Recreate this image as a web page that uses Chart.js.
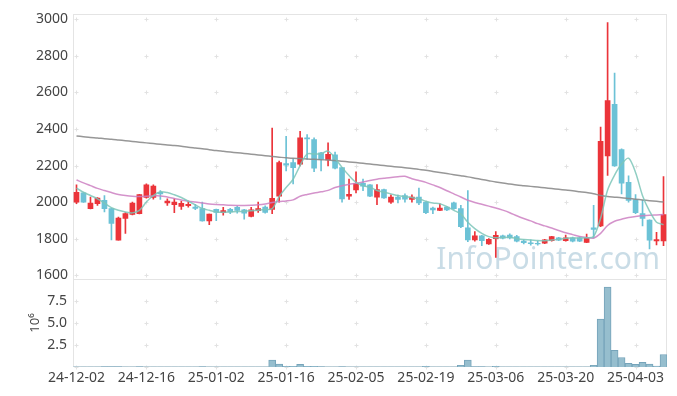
<!DOCTYPE html>
<html>
<head>
<meta charset="utf-8">
<script src="https://cdn.jsdelivr.net/npm/chart.js@4.4.1/dist/chart.umd.min.js"></script>
<style>
  html, body { margin: 0; padding: 0; background: #fff; }
  #wrap { width: 677px; height: 396px; }
</style>
</head>
<body>
<div id="wrap"><canvas id="myChart" width="677" height="396"></canvas></div>
<script>
// trading days
const dates = [
  "24-12-02","24-12-03","24-12-04","24-12-05","24-12-06","24-12-09","24-12-10","24-12-11","24-12-12","24-12-13",
  "24-12-16","24-12-17","24-12-18","24-12-19","24-12-20","24-12-23","24-12-24","24-12-26","24-12-27","24-12-30",
  "25-01-02","25-01-03","25-01-06","25-01-07","25-01-08","25-01-09","25-01-10","25-01-13","25-01-14","25-01-15",
  "25-01-16","25-01-17","25-01-20","25-01-21","25-01-22","25-01-23","25-01-24","25-01-31","25-02-03","25-02-04",
  "25-02-05","25-02-06","25-02-07","25-02-10","25-02-11","25-02-12","25-02-13","25-02-14","25-02-17","25-02-18",
  "25-02-19","25-02-20","25-02-21","25-02-24","25-02-25","25-02-26","25-02-27","25-02-28","25-03-04","25-03-05",
  "25-03-06","25-03-07","25-03-10","25-03-11","25-03-12","25-03-13","25-03-14","25-03-17","25-03-18","25-03-19",
  "25-03-20","25-03-21","25-03-24","25-03-25","25-03-26","25-03-27","25-03-28","25-03-31","25-04-01","25-04-02",
  "25-04-03","25-04-04","25-04-07","25-04-08","25-04-09"
];

const opens = [
  2000,2050,1964,1991,2009,1964,1791,1910,1933,1937,
  2025,2025,2054,1995,1986,1977,1980,1973,1964,1897,
  1960,1942,1960,1971,1957,1921,1953,1973,1960,2032,
  2211,2216,2207,2351,2342,2270,2231,2259,2189,2032,
  2067,2103,2094,2027,2069,2000,2027,2036,2014,2027,
  2000,1967,1955,1973,1996,1964,1859,1793,1816,1771,
  1800,1816,1820,1811,1786,1777,1775,1775,1789,1805,
  1789,1805,1805,1780,1859,1870,2252,2535,2288,2108,
  2014,1937,1901,1788,1788
];
const highs = [
  2094,2052,2027,2025,2036,1966,1918,1942,2000,2043,
  2100,2094,2063,2018,2018,2005,2005,1988,2000,1935,
  1962,1971,1966,1978,1960,1971,2000,1980,2405,2224,
  2360,2238,2387,2369,2351,2272,2324,2274,2189,2126,
  2166,2126,2096,2096,2071,2040,2039,2045,2040,2076,
  2002,1973,1991,1976,2000,1982,2063,1838,1818,1800,
  1838,1820,1827,1818,1793,1793,1786,1796,1813,1807,
  1820,1808,1811,1825,1982,2411,2982,2706,2292,2144,
  2041,2009,1903,1834,2139
];
const lows = [
  1991,1998,1962,1982,1946,1793,1791,1829,1930,1935,
  2022,2016,2014,1982,1942,1960,1972,1958,1895,1877,
  1899,1928,1937,1940,1906,1919,1944,1940,1937,2000,
  2171,2099,2198,2234,2166,2171,2198,2182,2000,2014,
  2050,2063,2030,1986,2020,1993,1995,2000,2000,1986,
  1937,1937,1953,1953,1960,1860,1784,1786,1762,1769,
  1697,1798,1798,1782,1771,1764,1764,1773,1786,1789,
  1786,1782,1784,1778,1802,1865,2146,2195,2045,2000,
  1937,1870,1744,1766,1762
];
const closes = [
  2054,2000,1995,2022,1964,1883,1913,1937,1995,2041,
  2094,2087,2045,2005,2000,1993,1988,1965,1897,1935,
  1944,1953,1946,1955,1940,1957,1964,1944,2020,2216,
  2202,2189,2351,2346,2185,2234,2261,2185,2018,2043,
  2103,2087,2032,2069,2023,2027,2014,2016,2027,1996,
  1942,1957,1967,1957,1964,1865,1793,1816,1789,1796,
  1818,1802,1804,1786,1778,1773,1771,1793,1811,1791,
  1805,1786,1786,1805,1850,2333,2555,2198,2104,2009,
  1942,1910,1791,1795,1932
];

// volume, in millions of shares
const volumes = [
  0.03,0.02,0.03,0.02,0.04,0.05,0.04,0.03,0.03,0.04,
  0.03,0.03,0.02,0.02,0.03,0.02,0.02,0.03,0.04,0.03,
  0.02,0.02,0.03,0.02,0.03,0.02,0.03,0.03,0.78,0.34,
  0.08,0.08,0.30,0.08,0.08,0.04,0.03,0.03,0.04,0.03,
  0.03,0.02,0.03,0.03,0.02,0.02,0.02,0.02,0.03,0.03,
  0.08,0.03,0.02,0.02,0.03,0.19,0.78,0.04,0.04,0.03,
  0.08,0.03,0.02,0.03,0.02,0.02,0.02,0.02,0.03,0.02,
  0.03,0.02,0.02,0.03,0.19,5.45,9.07,1.90,1.08,0.41,
  0.30,0.52,0.34,0.11,1.42
];

// moving average lines
const ma5 = [
  2076,2054,2036,2018,1995,1970,1955,1946,1941,1955,
  2000,2036,2056,2052,2040,2025,2005,1985,1965,1955,
  1946,1944,1946,1948,1950,1952,1955,1960,1964,2030,
  2080,2125,2200,2263,2263,2265,2279,2240,2190,2145,
  2108,2090,2081,2063,2054,2045,2036,2030,2025,2018,
  2005,1995,1991,1975,1955,1935,1890,1855,1829,1811,
  1805,1806,1807,1800,1795,1793,1790,1789,1792,1796,
  1802,1803,1804,1805,1812,1912,2066,2148,2208,2240,
  2162,2035,1951,1890,1876
];
const ma20 = [
  2121,2105,2090,2075,2063,2052,2042,2036,2032,2031,
  2032,2034,2034,2028,2020,2012,2005,2000,1995,1990,
  1987,1985,1983,1982,1982,1983,1985,1990,1998,2003,
  2006,2012,2032,2042,2050,2056,2064,2080,2090,2097,
  2103,2110,2118,2125,2130,2135,2139,2141,2128,2118,
  2108,2094,2080,2062,2045,2028,2010,1998,1988,1978,
  1968,1956,1942,1925,1910,1897,1882,1870,1858,1845,
  1832,1822,1812,1806,1803,1829,1872,1895,1906,1916,
  1921,1925,1928,1930,1932
];
const ma120 = [
  2362,2358,2354,2351,2347,2344,2340,2336,2332,2328,
  2324,2320,2316,2312,2309,2305,2300,2296,2292,2287,
  2282,2278,2274,2270,2266,2262,2258,2254,2250,2246,
  2242,2240,2238,2236,2234,2232,2230,2228,2224,2220,
  2216,2212,2208,2204,2200,2196,2192,2188,2184,2179,
  2174,2168,2162,2156,2150,2144,2138,2131,2124,2117,
  2110,2104,2099,2094,2090,2086,2082,2078,2074,2070,
  2066,2062,2057,2052,2046,2036,2030,2027,2024,2020,
  2016,2012,2008,2004,2000
];

const priceTicks = [1600, 1800, 2000, 2200, 2400, 2600, 2800, 3000];
const volumeTicks = [2.5, 5, 7.5];

const UP = 'rgb(235,52,58)';
const DOWN = 'rgb(108,194,214)';
const candleColors = closes.map((c, i) => c >= opens[i] ? UP : DOWN);

Chart.defaults.font.family = "'Noto Sans', sans-serif";
Chart.defaults.font.size = 14;
Chart.defaults.color = '#444';

const backdrop = {
  id: 'backdrop',
  beforeDatasetsDraw(chart) {
    const { ctx, chartArea: a, scales } = chart;
    const xs = scales.x, yp = scales.y, yv = scales.yv;
    ctx.save();

    // watermark
    ctx.font = '30px "Noto Sans"';
    ctx.fillStyle = 'rgba(188,211,224,0.8)';
    ctx.textAlign = 'right';
    ctx.textBaseline = 'alphabetic';
    ctx.fillText('InfoPointer.com', a.right - 7, yp.bottom - 10);

    // frame and divider
    ctx.strokeStyle = '#e4e4e4';
    ctx.lineWidth = 1;
    ctx.strokeRect(Math.round(a.left) + 0.5, Math.round(a.top) + 0.5,
                   Math.round(a.width) - 1, Math.round(a.height) - 1);
    ctx.beginPath();
    ctx.moveTo(a.left, Math.round(yp.bottom) + 0.5);
    ctx.lineTo(a.right, Math.round(yp.bottom) + 0.5);
    ctx.stroke();

    // small crosses at grid intersections
    const rows = priceTicks.map(v => yp.getPixelForValue(v))
      .concat(volumeTicks.map(v => yv.getPixelForValue(v)))
      .concat([yv.bottom]);
    const cols = dates.map((d, i) => i).filter(i => i % 10 === 0).map(i => xs.getPixelForValue(i));
    ctx.strokeStyle = '#e2e2e2';
    ctx.beginPath();
    cols.forEach(cx => {
      rows.forEach(ry => {
        const px = Math.round(cx) + 0.5, py = Math.round(ry) + 0.5;
        ctx.moveTo(px - 2, py); ctx.lineTo(px + 2, py);
        ctx.moveTo(px, py - 2); ctx.lineTo(px, py + 2);
      });
    });
    ctx.stroke();
    ctx.restore();
  }
};

const ctx = document.getElementById('myChart');
new Chart(ctx, {
  type: 'bar',
  data: {
    labels: dates,
    datasets: [
      {
        type: 'line', label: 'MA5', data: ma5, yAxisID: 'y',
        borderColor: 'rgba(125,198,184,0.85)', borderWidth: 1.5,
        pointRadius: 0, tension: 0.3, order: 0
      },
      {
        type: 'line', label: 'MA20', data: ma20, yAxisID: 'y',
        borderColor: 'rgba(204,128,194,0.85)', borderWidth: 1.5,
        pointRadius: 0, tension: 0.3, order: 0
      },
      {
        type: 'line', label: 'MA120', data: ma120, yAxisID: 'y',
        borderColor: 'rgba(140,140,140,0.9)', borderWidth: 1.5,
        pointRadius: 0, tension: 0.3, order: 0
      },
      {
        label: 'body', yAxisID: 'y',
        data: opens.map((o, i) => [o, closes[i]]),
        backgroundColor: candleColors,
        barThickness: 5, grouped: false, order: 1
      },
      {
        label: 'wick', yAxisID: 'y',
        data: lows.map((l, i) => [l, highs[i]]),
        backgroundColor: candleColors,
        barThickness: 1, grouped: false, order: 2
      },
      {
        label: 'volume', yAxisID: 'yv',
        data: volumes,
        backgroundColor: 'rgba(150,190,206,1)',
        borderColor: 'rgba(118,164,186,1)',
        borderWidth: 1,
        barPercentage: 1, categoryPercentage: 1, grouped: false, order: 3
      }
    ]
  },
  options: {
    responsive: false,
    devicePixelRatio: 1,
    animation: false,
    layout: { padding: { top: 10, right: 10, left: 0, bottom: 0 } },
    plugins: {
      legend: { display: false },
      tooltip: { enabled: false }
    },
    scales: {
      x: {
        type: 'category',
        offset: true,
        grid: { display: false, drawTicks: false },
        border: { display: false },
        ticks: {
          autoSkip: false, maxRotation: 0, padding: 3,
          callback: function (v, i) { return i % 10 === 0 ? dates[i] : null; }
        },
        afterFit: s => { s.height = 29; }
      },
      yv: {
        type: 'linear', position: 'left', stack: 'main', stackWeight: 1,
        min: 0, max: 10,
        grid: { display: false, drawTicks: false },
        border: { display: false },
        ticks: { padding: 6, callback: v => v.toFixed(1) },
        afterBuildTicks: s => { s.ticks = volumeTicks.map(v => ({ value: v })); },
        title: { display: true, text: '10⁶', font: { size: 13 }, padding: { top: 27, bottom: 0 } },
        afterFit: s => { s.width = 73; }
      },
      y: {
        type: 'linear', position: 'left', stack: 'main', stackWeight: 3,
        min: 1580, max: 3027,
        grid: { display: false, drawTicks: false },
        border: { display: false },
        ticks: { padding: 5, callback: v => String(v) },
        afterBuildTicks: s => { s.ticks = priceTicks.map(v => ({ value: v })); },
        afterFit: s => { s.width = 73; }
      }
    }
  },
  plugins: [backdrop]
});
</script>
</body>
</html>
